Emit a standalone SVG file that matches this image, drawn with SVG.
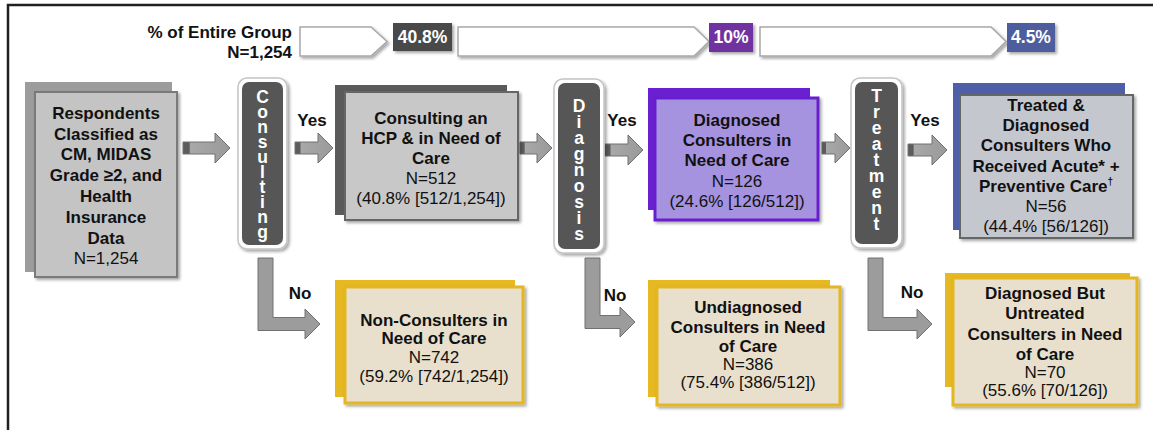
<svg xmlns="http://www.w3.org/2000/svg" width="1153" height="430" viewBox="0 0 1153 430">
  <defs>
    <filter id="shadow" x="-10%" y="-10%" width="125%" height="125%">
      <feDropShadow dx="2" dy="2" stdDeviation="1.5" flood-color="#000" flood-opacity="0.35"/>
    </filter>
    <linearGradient id="arrowFill" x1="0" y1="0" x2="1" y2="0">
      <stop offset="0" stop-color="#5c5c5c"/>
      <stop offset="0.13" stop-color="#5c5c5c"/>
      <stop offset="0.16" stop-color="#a8a8a8"/>
      <stop offset="1" stop-color="#9a9a9a"/>
    </linearGradient>
  </defs>
  <style>
    text { font-family: "Liberation Sans", Arial, sans-serif; fill: #111; }
    .b { font-weight: bold; font-size: 17px; }
    .r { font-size: 17px; }
    .c { text-anchor: middle; }
    .pill-text { font-weight: bold; font-size: 17.5px; fill: #fff; writing-mode: vertical-rl; text-orientation: upright; }
    .pct { font-weight: bold; font-size: 17.5px; fill: #fff; text-anchor: middle; }
    .band { fill: #fff; stroke: #a8a8a8; stroke-width: 1.5; filter: url(#shadow); }
    .arrow { fill: url(#arrowFill); stroke: #707070; stroke-width: 1; }
    .larrow { fill: #9c9c9c; stroke: #707070; stroke-width: 1; }
    .pill-out { fill: #fff; stroke: #c4c4c4; stroke-width: 1.5; filter: url(#shadow); }
    .pill-in { fill: #565656; }
    .gold-back { fill: #e6b821; }
    .gold-front { fill: #e8e0cc; stroke: #e3b623; stroke-width: 3; filter: url(#shadow); }
  </style>

  <rect width="1153" height="430" fill="#fff"/>
  <!-- frame -->
  <path d="M8,430 V5 H1153" fill="none" stroke="#231f20" stroke-width="2.5"/>

  <!-- header band: share of the entire group -->
  <g id="header">
    <text class="b" x="292" y="38" text-anchor="end">% of Entire Group</text>
    <text class="b" x="292" y="58" text-anchor="end">N=1,254</text>
    <path class="band" d="M300,27 H371 L387,41.5 L371,56 H300 Z"/>
    <rect x="393" y="23" width="59" height="28" fill="#4a4a4a" filter="url(#shadow)"/>
    <text class="pct" x="422.5" y="43">40.8%</text>
    <path class="band" d="M458,27 H694 L709,41.5 L694,56 H458 Z"/>
    <rect x="709" y="23" width="44" height="29" fill="#7030a0" filter="url(#shadow)"/>
    <text class="pct" x="731" y="43">10%</text>
    <path class="band" d="M760,27 H991 L1006,41.5 L991,56 H760 Z"/>
    <rect x="1007" y="23" width="48" height="29" fill="#4e5d9e" filter="url(#shadow)"/>
    <text class="pct" x="1031" y="43">4.5%</text>
  </g>

  <!-- connectors -->
  <g id="connectors">
    <path class="arrow" d="M183,142 H215 V133 L230,148 L215,163 V154 H183 Z"/>
    <path class="arrow" d="M295,142 H318 V133 L333,148 L318,163 V154 H295 Z"/>
    <path class="arrow" d="M520,142 H537 V133 L552,148 L537,163 V154 H520 Z"/>
    <path class="arrow" d="M605,144 H628 V135 L643,150 L628,165 V156 H605 Z"/>
    <path class="arrow" d="M822,142 H835 V133 L850,148 L835,163 V154 H822 Z"/>
    <path class="arrow" d="M908,144 H932 V135 L947,150 L932,165 V156 H908 Z"/>

    <path class="larrow" d="M258,258 H273 V317.5 H305 V309 L320,324 L305,339 V330.5 H258 Z"/>
    <path class="larrow" d="M585,258 H600 V315.5 H620 V307 L635,322 L620,337 V328.5 H585 Z"/>
    <path class="larrow" d="M868,258 H883 V317.5 H917 V309 L932,324 L917,339 V330.5 H868 Z"/>

    <text class="b c" x="312" y="126">Yes</text>
    <text class="b c" x="622" y="126">Yes</text>
    <text class="b c" x="925" y="126">Yes</text>
    <text class="b c" x="300" y="299">No</text>
    <text class="b c" x="615" y="301">No</text>
    <text class="b c" x="912" y="298">No</text>
  </g>

  <!-- starting population -->
  <g id="respondents">
    <rect x="25" y="82" width="147" height="190" fill="#9c9c9c"/>
    <rect x="35" y="92" width="142" height="185" fill="#c4c4c4" stroke="#7a7a7a" stroke-width="2" filter="url(#shadow)"/>
    <text class="b c" x="106" y="119">Respondents</text>
    <text class="b c" x="106" y="140">Classified as</text>
    <text class="b c" x="106" y="160">CM, MIDAS</text>
    <text class="b c" x="106" y="181">Grade ≥2, and</text>
    <text class="b c" x="106" y="202">Health</text>
    <text class="b c" x="106" y="223">Insurance</text>
    <text class="b c" x="106" y="244">Data</text>
    <text class="r c" x="106" y="264">N=1,254</text>
  </g>

  <!-- decision: consulting (upright vertical lettering) -->
  <g id="consulting">
    <rect class="pill-out" x="238" y="78" width="49" height="171" rx="9"/>
    <rect class="pill-in" x="242" y="82" width="41" height="163" rx="7"/>
    <text class="pill-text" x="262.5" y="87" letter-spacing="-5">Consulting</text>
  </g>

  <g id="consulting-hcp">
    <rect x="335" y="85" width="172" height="130" fill="#5a5a5a"/>
    <rect x="345" y="92" width="173" height="128" fill="#c8c8c8" stroke="#666" stroke-width="2" filter="url(#shadow)"/>
    <text class="b c" x="431" y="124">Consulting an</text>
    <text class="b c" x="431" y="144">HCP &amp; in Need of</text>
    <text class="b c" x="431" y="164">Care</text>
    <text class="r c" x="431" y="184">N=512</text>
    <text class="r c" x="431" y="204">(40.8% [512/1,254])</text>
  </g>

  <g id="non-consulters">
    <rect class="gold-back" x="335" y="280" width="180" height="117"/>
    <rect class="gold-front" x="345" y="287" width="178" height="116"/>
    <text class="b c" x="434" y="326">Non-Consulters in</text>
    <text class="b c" x="434" y="344">Need of Care</text>
    <text class="r c" x="434" y="363">N=742</text>
    <text class="r c" x="434" y="382">(59.2% [742/1,254])</text>
  </g>

  <!-- decision: diagnosis -->
  <g id="diagnosis">
    <rect class="pill-out" x="554" y="79" width="50" height="174" rx="9"/>
    <rect class="pill-in" x="558" y="83" width="42" height="166" rx="7"/>
    <text class="pill-text" x="579" y="96" letter-spacing="-4">Diagnosis</text>
  </g>

  <g id="diagnosed">
    <rect x="648" y="88" width="162" height="122" fill="#6a1fd0"/>
    <rect x="655" y="98" width="163" height="122" fill="#a593e0" stroke="#6a1fd0" stroke-width="3" filter="url(#shadow)"/>
    <text class="b c" x="737" y="126">Diagnosed</text>
    <text class="b c" x="737" y="146">Consulters in</text>
    <text class="b c" x="737" y="166">Need of Care</text>
    <text class="r c" x="737" y="187">N=126</text>
    <text class="r c" x="737" y="207">(24.6% [126/512])</text>
  </g>

  <g id="undiagnosed">
    <rect class="gold-back" x="648" y="280" width="182" height="117"/>
    <rect class="gold-front" x="657" y="287" width="183" height="118"/>
    <text class="b c" x="748" y="313">Undiagnosed</text>
    <text class="b c" x="748" y="333">Consulters in Need</text>
    <text class="b c" x="748" y="352">of Care</text>
    <text class="r c" x="748" y="370">N=386</text>
    <text class="r c" x="748" y="388">(75.4% [386/512])</text>
  </g>

  <!-- decision: treatment -->
  <g id="treatment">
    <rect class="pill-out" x="851" y="78" width="51" height="170" rx="9"/>
    <rect class="pill-in" x="855" y="82" width="43" height="162" rx="7"/>
    <text class="pill-text" x="876.5" y="86" letter-spacing="-4">Treatment</text>
  </g>

  <g id="treated">
    <rect x="953" y="83" width="172" height="147" fill="#4e5fa8"/>
    <rect x="960" y="95" width="173" height="143" fill="#c5c7cf" stroke="#666" stroke-width="2" filter="url(#shadow)"/>
    <text class="b c" x="1046" y="111">Treated &amp;</text>
    <text class="b c" x="1046" y="131">Diagnosed</text>
    <text class="b c" x="1046" y="151">Consulters Who</text>
    <text class="b c" x="1046" y="172">Received Acute* +</text>
    <text class="b c" x="1046" y="192">Preventive Care<tspan font-size="10" dy="-7">†</tspan></text>
    <text class="r c" x="1046" y="212">N=56</text>
    <text class="r c" x="1046" y="232">(44.4% [56/126])</text>
  </g>

  <g id="untreated">
    <rect class="gold-back" x="945" y="273" width="185" height="114"/>
    <rect class="gold-front" x="953" y="278" width="184" height="127"/>
    <text class="b c" x="1045" y="299">Diagnosed But</text>
    <text class="b c" x="1045" y="319">Untreated</text>
    <text class="b c" x="1045" y="340">Consulters in Need</text>
    <text class="b c" x="1045" y="360">of Care</text>
    <text class="r c" x="1045" y="378">N=70</text>
    <text class="r c" x="1045" y="396">(55.6% [70/126])</text>
  </g>
</svg>
